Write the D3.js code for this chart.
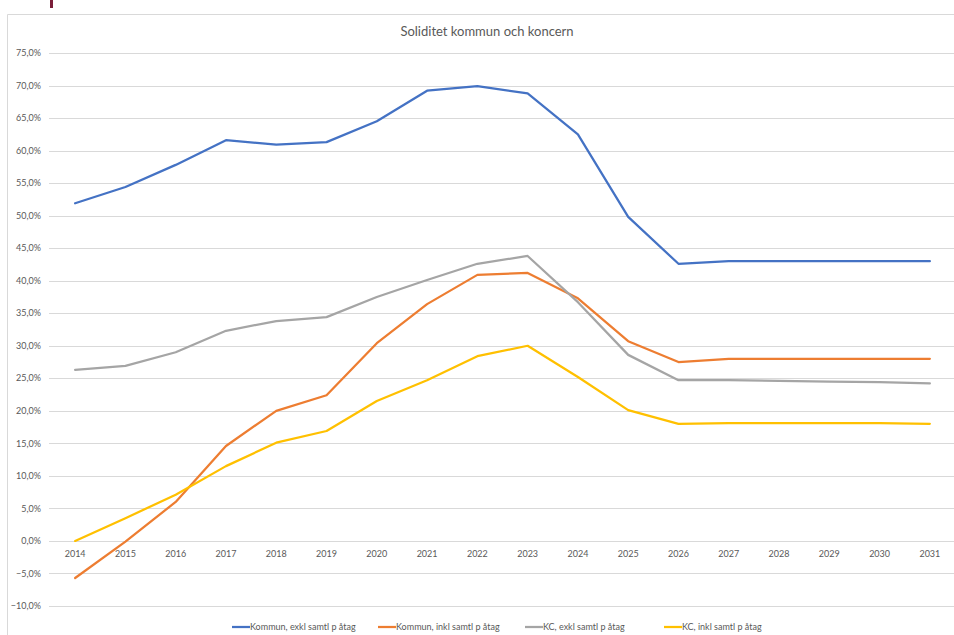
<!DOCTYPE html>
<html><head><meta charset="utf-8">
<script src="https://cdn.jsdelivr.net/npm/d3@7"></script>
<style>
html,body{margin:0;padding:0;background:#fff;}
svg{display:block;font-family:Lato,"Open Sans",sans-serif;}
</style></head>
<body>
<svg id="chart" width="954" height="635"></svg>
<script>
const years = ["2014","2015","2016","2017","2018","2019","2020","2021","2022","2023","2024","2025","2026","2027","2028","2029","2030","2031"];
const kommunExkl = [51.9,54.4,57.8,61.6,60.9,61.3,64.5,69.2,69.9,68.8,62.5,49.8,42.6,43.0,43.0,43.0,43.0,43.0];
const kommunInkl = [-5.7,-0.1,6.0,14.6,20.0,22.4,30.4,36.4,40.9,41.2,37.3,30.7,27.5,28.0,28.0,28.0,28.0,28.0];
const kcExkl = [26.3,26.9,29.0,32.3,33.8,34.4,37.5,40.1,42.6,43.8,36.7,28.6,24.7,24.7,24.6,24.5,24.4,24.2];
const kcInkl = [0.0,3.5,7.1,11.5,15.1,16.9,21.5,24.7,28.4,30.0,25.2,20.1,18.0,18.1,18.1,18.1,18.1,18.0];
const seriesNames = ["Kommun, exkl samtl p åtag","Kommun, inkl samtl p åtag","KC, exkl samtl p åtag","KC, inkl samtl p åtag"];
const seriesColors = ["#4472C4","#ED7D31","#A5A5A5","#FFC000"];
const yTicks = [-10,-5,0,5,10,15,20,25,30,35,40,45,50,55,60,65,70,75];
const title = "Soliditet kommun och koncern";

const allSeries = [kommunExkl, kommunInkl, kcExkl, kcInkl];
const svg = d3.select("#chart");

// small maroon mark at top-left (cropped element in source)
svg.append("rect").attr("x",50).attr("y",0).attr("width",3).attr("height",8).attr("fill","#7b1e3a");

// chart frame
svg.append("line").attr("x1",7.5).attr("x2",7.5).attr("y1",14.5).attr("y2",635).attr("stroke","#d9d9d9");
svg.append("line").attr("x1",7.5).attr("x2",954).attr("y1",14.5).attr("y2",14.5).attr("stroke","#d9d9d9");

const x = d3.scalePoint().domain(years).range([50,955]).padding(0.5);
const y = d3.scaleLinear().domain([-10,75]).range([606,53]);

// gridlines
svg.append("g").selectAll("line").data(yTicks).join("line")
  .attr("x1",49).attr("x2",954)
  .attr("y1",d=>Math.round(y(d))+0.5).attr("y2",d=>Math.round(y(d))+0.5)
  .attr("stroke","#d9d9d9").attr("stroke-width",1);

const fmt = v => d3.format(".1f")(v).replace("-","-").replace(".",",") + "%";
// y labels
svg.append("g").selectAll("text").data(yTicks).join("text")
  .attr("x",41).attr("y",d=>y(d)).attr("dy","0.35em")
  .attr("text-anchor","end").attr("font-size",9).attr("fill","#595959")
  .text(fmt);

// x labels
svg.append("g").selectAll("text").data(years).join("text")
  .attr("x",d=>x(d)).attr("y",557)
  .attr("text-anchor","middle").attr("font-size",9).attr("fill","#595959")
  .text(d=>d);

// title
svg.append("text").attr("x",487).attr("y",36).attr("text-anchor","middle")
  .attr("font-size",13).attr("fill","#595959").text(title);

// lines
const line = d3.line().x((d,i)=>x(years[i])).y(d=>y(d));
svg.append("g").selectAll("path").data(allSeries).join("path")
  .attr("d",line).attr("fill","none")
  .attr("stroke",(d,i)=>seriesColors[i]).attr("stroke-width",2.25)
  .attr("stroke-linejoin","round").attr("stroke-linecap","round");

// legend
const legendX = [232,378,525,664];
const lg = svg.append("g").selectAll("g").data(seriesNames).join("g")
  .attr("transform",(d,i)=>`translate(${legendX[i]},627)`);
lg.append("line").attr("x1",0).attr("x2",18).attr("y1",0).attr("y2",0)
  .attr("stroke",(d,i)=>seriesColors[i]).attr("stroke-width",2.25);
lg.append("text").attr("x",18).attr("y",0).attr("dy","0.35em")
  .attr("font-size",9).attr("fill","#595959").text(d=>d);
</script>
</body></html>
